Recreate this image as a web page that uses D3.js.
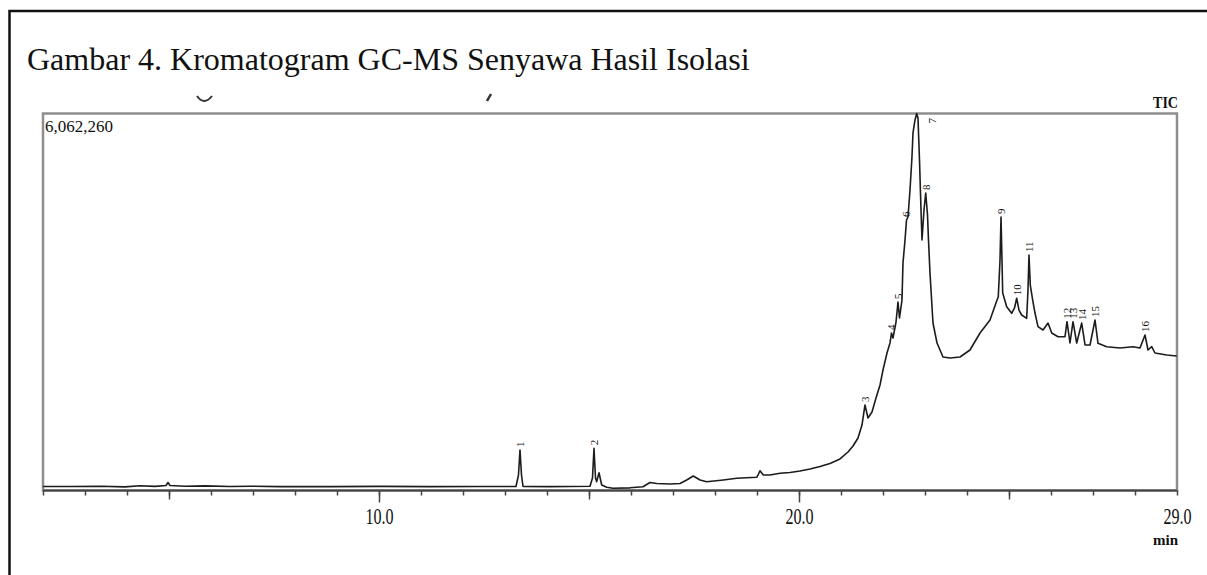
<!DOCTYPE html>
<html lang="id">
<head>
    <meta charset="UTF-8">
    <script src="https://d3js.org/d3.v7.min.js"></script>
    <title>Kromatogram GC-MS</title>
    <style>
      body { margin: 0; background: #fff; }
      text { font-family: "Liberation Serif", "Times New Roman", serif; fill: #111; }
    </style>
</head>
<body>
    <div id="chart"></div>
<script>

// retention time (min) and TIC intensity (x1000 counts)
var retentionTime = [2.000, 2.643, 3.357, 3.952, 4.310, 4.667, 4.929, 4.976, 5.024, 5.381,
  5.857, 6.452, 6.929, 7.643, 8.833, 10.024, 11.214, 12.405, 13.262, 13.321,
  13.357, 13.393, 13.429, 14.071, 15.024, 15.083, 15.119, 15.155, 15.183, 15.238,
  15.302, 15.421, 15.571, 15.976, 16.286, 16.452, 16.612, 16.929, 17.167, 17.326,
  17.483, 17.643, 17.802, 18.198, 18.517, 18.993, 19.036, 19.071, 19.150, 19.310,
  19.548, 19.786, 20.024, 20.262, 20.500, 20.738, 20.976, 21.167, 21.286, 21.405,
  21.500, 21.571, 21.643, 21.738, 21.833, 21.929, 22.000, 22.095, 22.167, 22.202,
  22.238, 22.310, 22.357, 22.393, 22.452, 22.476, 22.524, 22.560, 22.595, 22.643,
  22.690, 22.714, 22.762, 22.802, 22.833, 22.869, 22.905, 22.929, 22.976, 23.017,
  23.060, 23.083, 23.119, 23.190, 23.286, 23.429, 23.595, 23.833, 24.071, 24.310,
  24.548, 24.690, 24.745, 24.786, 24.810, 24.833, 24.850, 24.945, 25.064, 25.131,
  25.183, 25.238, 25.302, 25.421, 25.452, 25.476, 25.507, 25.564, 25.619, 25.690,
  25.810, 25.929, 26.017, 26.167, 26.333, 26.381, 26.452, 26.524, 26.612, 26.731,
  26.810, 26.929, 27.048, 27.119, 27.326, 27.643, 27.952, 28.119, 28.238, 28.310,
  28.398, 28.476, 28.755, 28.993];

var intensity = [64, 64, 68, 59, 76, 66, 80, 129, 80, 68,
  74, 64, 69, 63, 63, 66, 63, 64, 64, 249,
  651, 249, 64, 63, 69, 201, 679, 201, 142, 286,
  88, 51, 35, 43, 61, 129, 113, 105, 113, 169,
  233, 169, 141, 169, 196, 212, 265, 318, 249, 249,
  277, 289, 314, 346, 386, 434, 507, 619, 716, 844,
  1053, 1375, 1166, 1262, 1487, 1696, 1938, 2211, 2372, 2533,
  2452, 2709, 3031, 2774, 3063, 3658, 4028, 4350, 4398, 4832,
  5363, 5749, 5958, 6062, 5990, 5314, 4510, 4028, 4510, 4784,
  4430, 4028, 3498, 2693, 2372, 2147, 2131, 2147, 2259, 2533,
  2742, 3015, 3116, 3706, 4398, 3706, 3176, 2956, 2849, 2935,
  3091, 2902, 2822, 2769, 3224, 3787, 3304, 3063, 2854, 2634,
  2581, 2693, 2533, 2473, 2473, 2714, 2372, 2714, 2372, 2693,
  2340, 2340, 2742, 2367, 2312, 2291, 2312, 2291, 2500, 2259,
  2312, 2211, 2179, 2163];

// numbered peaks
var peakNames = ["1","2","3","4","5","6","7","8","9","10","11","12","13","14","15","16"];
var peakTimes = [13.357, 15.119, 21.571, 22.202, 22.357, 22.560, 22.802, 23.017,
  24.810, 25.183, 25.476, 26.381, 26.524, 26.731, 27.048, 28.238];

var labelTicks = [10, 20, 29];
var fullScale = 6062.26;   // x1000 counts
var fullScaleText = "6,062,260";

var W = 1207, H = 575;
var svg = d3.select("#chart").append("svg")
    .attr("width", W).attr("height", H);

// outer box of the figure
svg.append("rect")
    .attr("x", 9.5).attr("y", 11)
    .attr("width", W + 20).attr("height", H + 20)
    .attr("fill", "none").attr("stroke", "#111").attr("stroke-width", 2.5);

svg.append("text")
    .attr("x", 27).attr("y", 70)
    .style("font-size", "32px")
    .text("Gambar 4. Kromatogram GC-MS Senyawa Hasil Isolasi");

// scraps of an older caption left under the title
svg.append("path")
    .attr("d", "M197,96 Q204,106 212,96")
    .attr("fill", "none").attr("stroke", "#333").attr("stroke-width", 2);
svg.append("path")
    .attr("d", "M491,94 L487,101")
    .attr("fill", "none").attr("stroke", "#333").attr("stroke-width", 2.5);

var plot = {left: 43, right: 1177, top: 113.5, bottom: 490.5};

var x = d3.scaleLinear().domain([2, 29]).range([plot.left, plot.right]);
var y = d3.scaleLinear().domain([0, fullScale]).range([plot.bottom, plot.top]);

// gray frame
svg.append("rect")
    .attr("x", plot.left).attr("y", plot.top)
    .attr("width", plot.right - plot.left).attr("height", plot.bottom - plot.top)
    .attr("fill", "none").attr("stroke", "#8e8e8e").attr("stroke-width", 2.5);

// time axis: minor every min, longer at 5, labelled at 10
function tickAxis(values, size) {
  var g = svg.append("g")
      .attr("transform", "translate(0," + plot.bottom + ")")
      .call(d3.axisBottom(x).tickValues(values).tickSize(size).tickFormat(""));
  g.select(".domain").remove();
  g.selectAll("line").attr("stroke", "#444").attr("stroke-width", 1.5);
  return g;
}
tickAxis(d3.range(2, 30), 5);
tickAxis([5, 15, 25], 9);
tickAxis([10, 20], 12);

var lab = svg.append("g")
    .attr("transform", "translate(0," + plot.bottom + ")")
    .call(d3.axisBottom(x).tickValues(labelTicks).tickSize(0).tickPadding(17)
      .tickFormat(d3.format(".1f")));
lab.select(".domain").remove();
lab.selectAll("text")
    .style("font-family", "'Liberation Serif', serif")
    .style("font-size", "23px").attr("fill", "#1a1a1a")
    .attr("transform", "scale(0.7,1)");

svg.append("line")
    .attr("x1", plot.left).attr("x2", plot.right)
    .attr("y1", plot.bottom).attr("y2", plot.bottom)
    .attr("stroke", "#444").attr("stroke-width", 2);

svg.append("text")
    .attr("x", plot.right + 1).attr("y", 545)
    .attr("text-anchor", "end")
    .style("font-size", "15px").style("font-weight", "bold")
    .text("min");

svg.append("text")
    .attr("x", plot.right + 1).attr("y", 108)
    .attr("text-anchor", "end")
    .style("font-size", "16px").style("font-weight", "bold")
    .attr("textLength", 25).attr("lengthAdjust", "spacingAndGlyphs")
    .text("TIC");

svg.append("text")
    .attr("x", plot.left + 2).attr("y", 132)
    .style("font-size", "17px")
    .attr("textLength", 68).attr("lengthAdjust", "spacingAndGlyphs")
    .text(fullScaleText);

// trace
var data = retentionTime.map(function(t, i) { return {t: t, v: intensity[i]}; });
var line = d3.line()
    .x(function(d) { return x(d.t); })
    .y(function(d) { return y(d.v); });

svg.append("path")
    .datum(data)
    .attr("d", line)
    .attr("fill", "none")
    .attr("stroke", "#1c1c1c")
    .attr("stroke-width", 1.6)
    .attr("stroke-linejoin", "round");

// peak numbers, rotated like the instrument print-out
function apexAt(t) {
  var best = data[0];
  data.forEach(function(d) { if (Math.abs(d.t - t) < Math.abs(best.t - t)) best = d; });
  return best;
}
peakNames.forEach(function(name, i) {
  var p = apexAt(peakTimes[i]);
  var px = x(p.t), py = y(p.v) - 3;
  if (py - 12 < plot.top) { px += 15; py = plot.top + 10; }   // no room above the frame
  svg.append("text")
      .attr("transform", "translate(" + px + "," + py + ") rotate(-90)")
      .attr("dy", "0.35em")
      .style("font-size", "11px")
      .attr("fill", "#222")
      .text(name);
});

</script>
</body>
</html>
